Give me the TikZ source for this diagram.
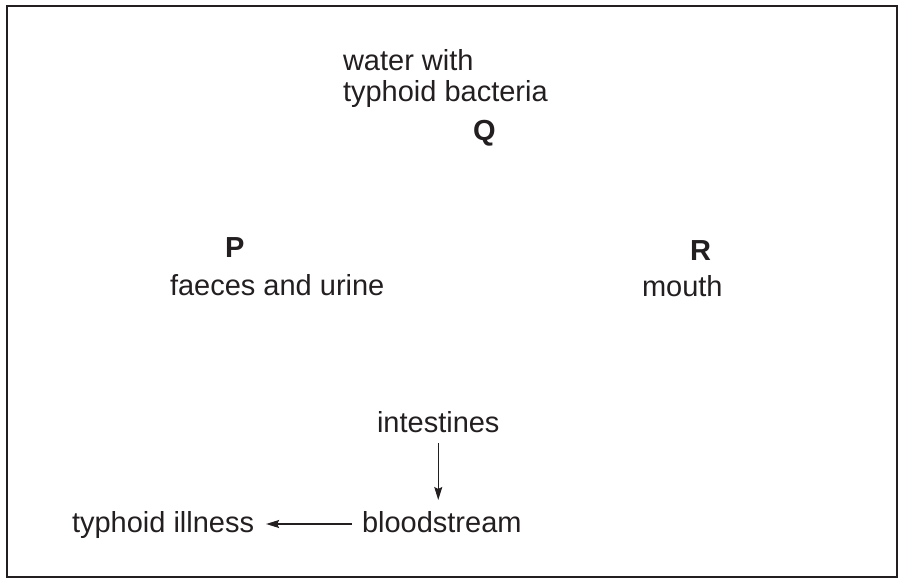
\documentclass[tikz,border=0pt]{standalone}
\usepackage{fontspec}
\setmainfont{Liberation Sans}
\usetikzlibrary{arrows.meta}
\definecolor{ink}{HTML}{231F20}
\begin{document}
\begin{tikzpicture}[x=1pt,y=-1pt,
  lbl/.style={inner sep=0pt,outer sep=0pt,text=ink,font=\fontsize{29}{31}\selectfont,anchor=base west},
  bold/.style={lbl,font=\fontsize{29}{31}\selectfont\bfseries},
  arr/.style={draw=ink,line width=1.1pt,-{Stealth[length=13pt,width=8pt,inset=2pt]}},
  frame/.style={draw=ink,line width=2.2pt}]
\useasboundingbox (0,0) rectangle (898,578);
\draw[frame] (7,6) rectangle (897,577);
\node[lbl,align=left] (water) at (343,102) {water with\\typhoid bacteria};
\node[bold] (Q) at (473,140) {Q};
\node[bold] (P) at (225,257) {P};
\node[lbl] (faeces) at (170,295) {faeces and urine};
\node[bold] (R) at (690,260) {R};
\node[lbl] (mouth) at (642,296) {mouth};
\node[lbl] (intestines) at (377,432) {intestines};
\node[lbl] (blood) at (362,532) {bloodstream};
\node[lbl] (illness) at (72,532) {typhoid illness};
\coordinate (vtop) at ([yshift=-11pt]intestines.base);
\draw[arr,shorten >=11pt] (vtop) -- (vtop |- blood.north);
\draw[arr,shorten <=10pt,shorten >=12pt] ([yshift=8pt]blood.base west) -- ([yshift=8pt]illness.base east);
\end{tikzpicture}
\end{document}
